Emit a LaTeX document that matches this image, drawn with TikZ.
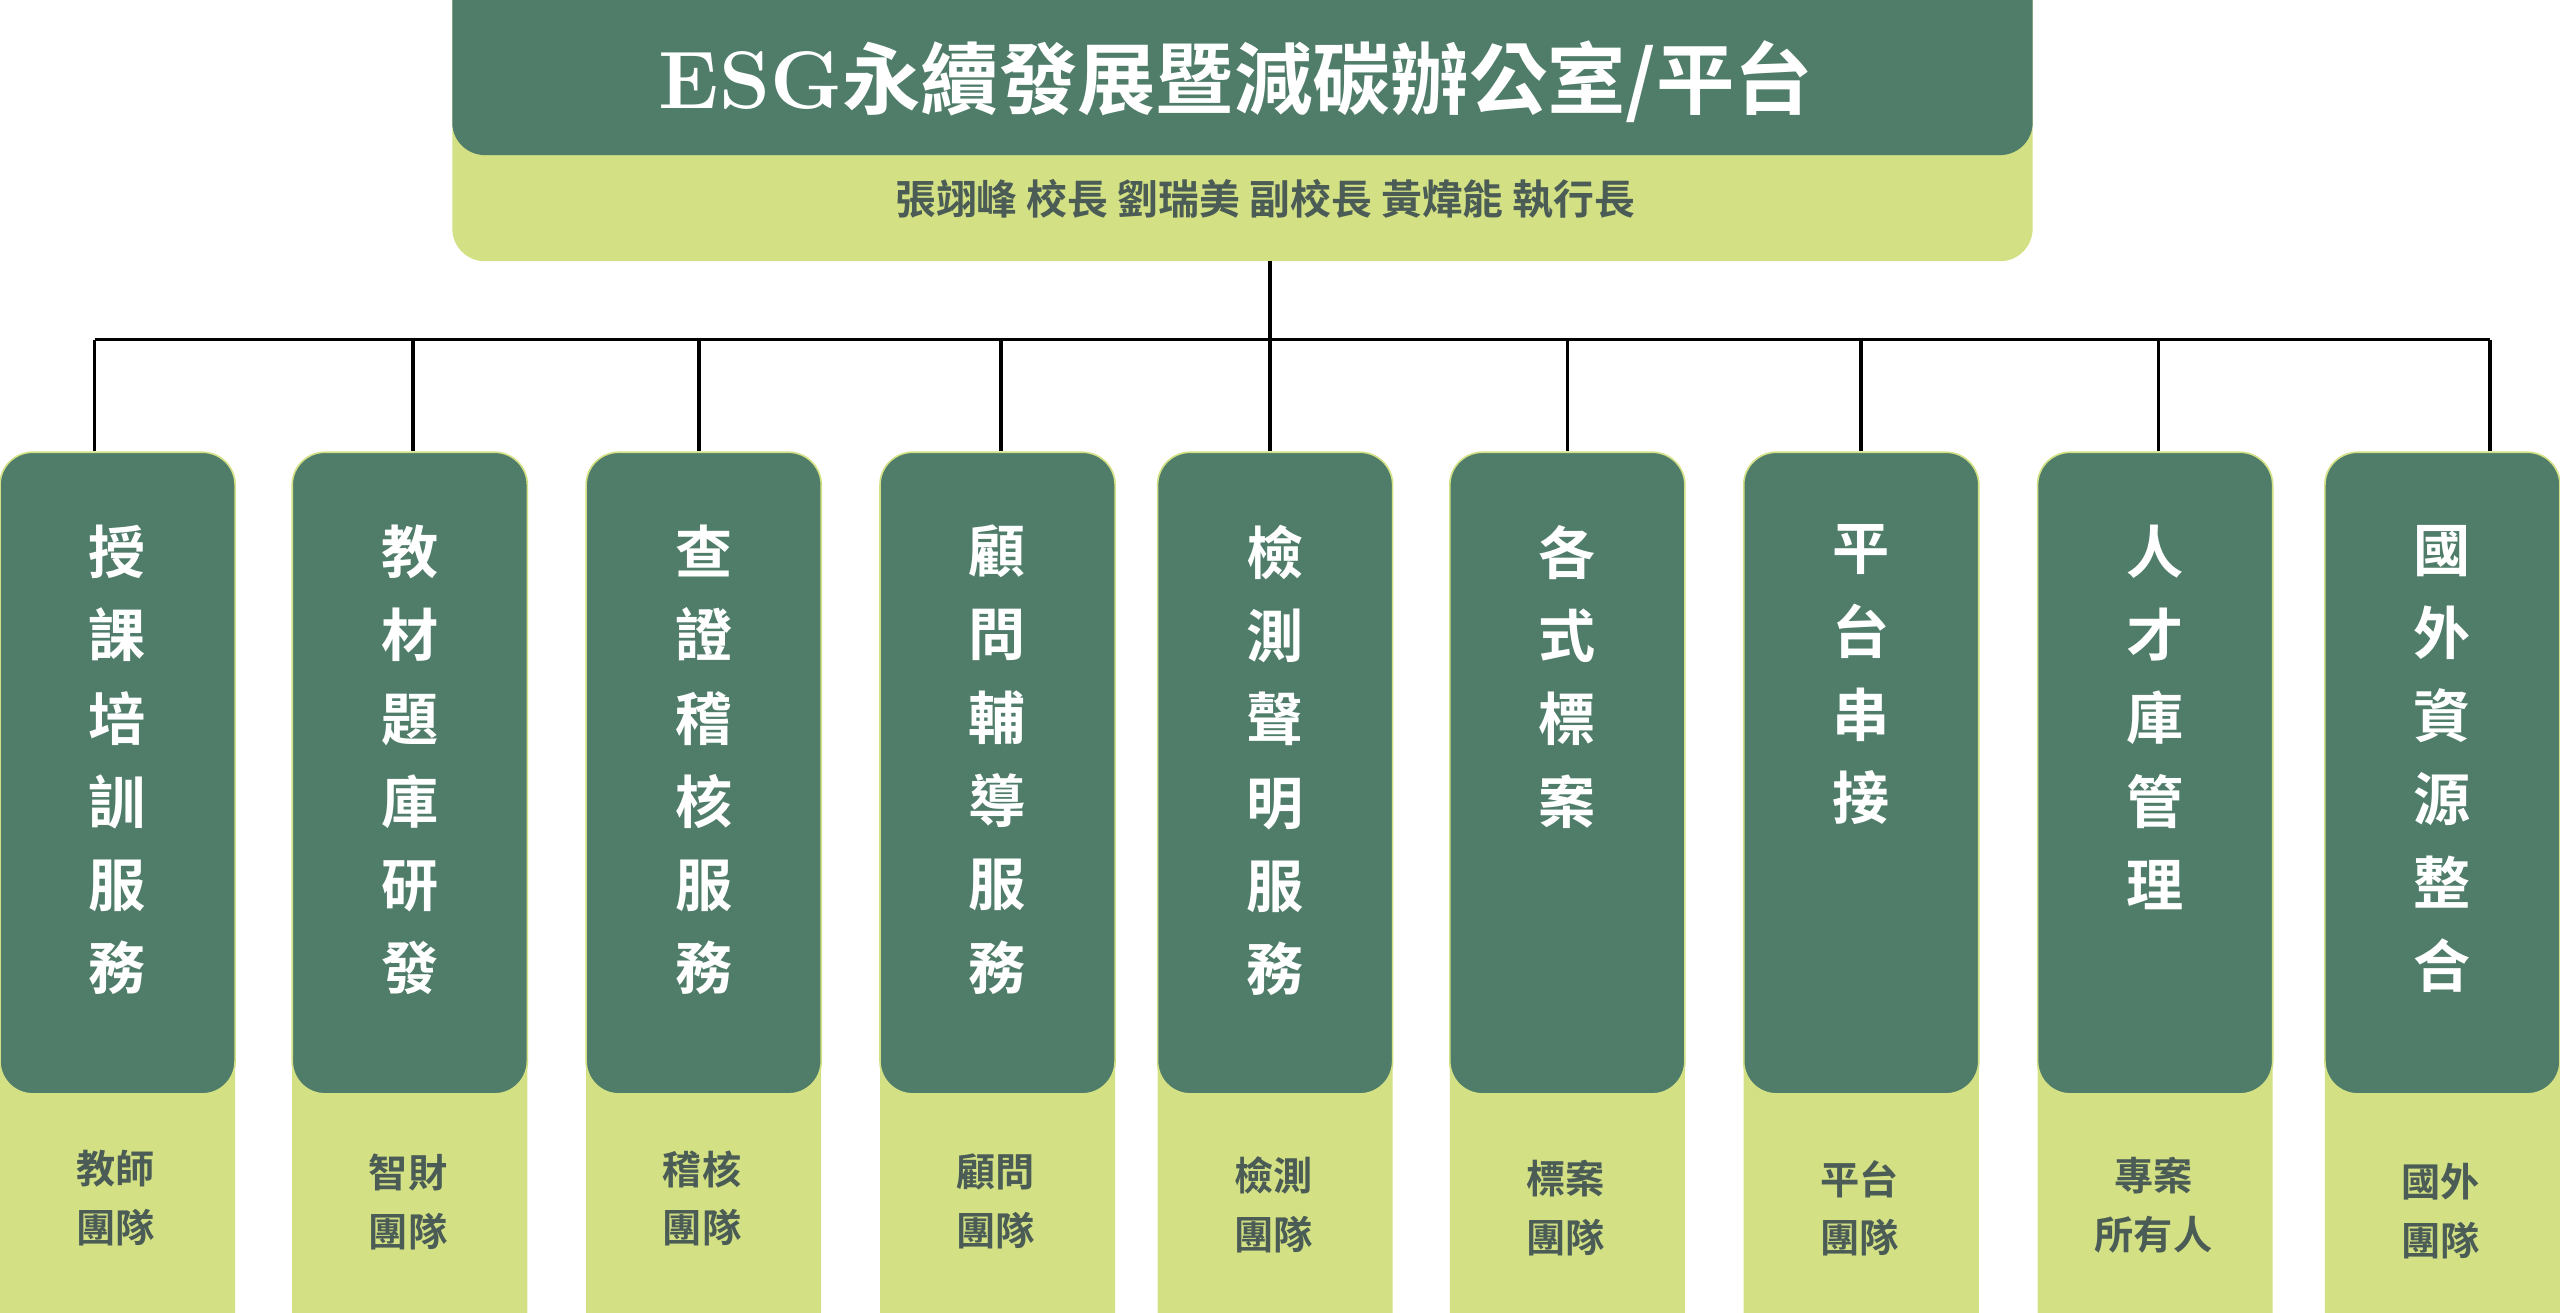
\documentclass[tikz,border=0pt]{standalone}
\usepackage{fontspec}
\newfontfamily\cjk{Noto Sans CJK TC}[BoldFont={Noto Sans CJK TC Bold}]
\definecolor{dg}{HTML}{4F7D6A}
\definecolor{lg}{HTML}{D3E084}
\definecolor{tx}{HTML}{4A5C55}
\begin{document}
\begin{tikzpicture}[x=1pt,y=-1pt,
  dark/.style={fill=dg,rounded corners=20pt},
  light/.style={fill=lg,rounded corners=20pt},
  vtext/.style={text=white,font=\cjk\bfseries\fontsize{35}{51}\selectfont,align=center,anchor=north},
  btext/.style={text=tx,font=\cjk\bfseries\fontsize{24}{36}\selectfont,align=center},
  conn/.style={line width=2.2pt,black}]
\useasboundingbox (0,0) rectangle (1568,804);
\begin{scope}
\clip (0,0) rectangle (1568,804);
% top box
\path[light] (277,-30) rectangle (1245,160);
\path[dark] (277,-30) rectangle (1245,95);
\node[text=white,font=\cjk\bfseries\fontsize{48}{50}\selectfont] (title) at (757,50) {{\rmfamily\fontsize{50}{50}\selectfont ESG}永續發展暨減碳辦公室/平台};
\node[btext,font=\cjk\bfseries\fontsize{25}{30}\selectfont] (sub) at (775,122) {張翊峰 校長 劉瑞美 副校長 黃煒能 執行長};
\coordinate (top) at (778,160);
\coordinate (mid) at (778,208);
\coordinate (hl) at (58,208);
\coordinate (hr) at (1525,208);
\draw[conn] (top) -- (mid);
\draw[conn] (hl) -- (hr);
% columns: left, dropx, vertical text, bottom text, bottom y
\foreach \l/\dx/\v/\b/\by [count=\i] in {
 0/58/{授\\課\\培\\訓\\服\\務}/{教師\\團隊}/734,
 179/253/{教\\材\\題\\庫\\研\\發}/{智財\\團隊}/736,
 359/428/{查\\證\\稽\\核\\服\\務}/{稽核\\團隊}/734,
 539/613/{顧\\問\\輔\\導\\服\\務}/{顧問\\團隊}/736,
 709/778/{檢\\測\\聲\\明\\服\\務}/{檢測\\團隊}/738,
 888/960/{各\\式\\標\\案}/{標案\\團隊}/740,
 1068/1140/{平\\台\\串\\接}/{平台\\團隊}/740,
 1248/1322/{人\\才\\庫\\管\\理}/{專案\\所有人}/738,
 1424/1525/{國\\外\\資\\源\\整\\合}/{國外\\團隊}/742}{
  \path[light] (\l,600) rectangle ++(144,240);
  \path[dark,draw=lg,line width=1pt] (\l,277) rectangle ++(144,393);
  \node[vtext] (v\i) at (\l+72,318) {\v};
  \node[btext] (b\i) at (\l+71,\by) {\b};
  \coordinate (d\i) at (\dx,208);
  \coordinate (e\i) at (\dx,276);
  \draw[conn] (d\i) -- (e\i);
}
\end{scope}
\end{tikzpicture}
\end{document}
